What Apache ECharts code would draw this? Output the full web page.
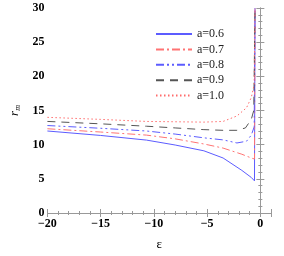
<!DOCTYPE html>
<html><head><meta charset="utf-8">
<script src="https://cdn.jsdelivr.net/npm/echarts@6/dist/echarts.min.js"></script>
<style>html,body{margin:0;padding:0;background:#fff}#c{width:284px;height:256px}</style>
</head><body><div id="c"></div>
<script>
var names = ['a=0.6','a=0.7','a=0.8','a=0.9','a=1.0'];
var eps06 = [-20,-15,-10.7,-8,-5.3,-3.5,-1.74,-0.85,-0.55,-0.5];
var r06   = [12.0,11.35,10.67,9.95,9.1,8.05,6.24,5.2,4.7,30];
var eps07 = [-20,-15,-10.7,-8,-5.3,-3.5,-1.74,-0.85,-0.55,-0.5];
var r07   = [12.33,11.85,11.4,10.85,10.1,9.5,8.6,8.05,7.9,30];
var eps08 = [-20,-15,-10.7,-8,-5.3,-3.5,-2.2,-1.3,-0.85,-0.58,-0.5];
var r08   = [12.8,12.4,12.0,11.55,11.0,10.7,10.25,10.5,11.4,12.6,30];
var eps09 = [-20,-15,-10.7,-8,-5.3,-3.5,-2.2,-1.4,-0.85,-0.62,-0.5];
var r09   = [13.4,13.05,12.7,12.45,12.2,12.1,12.1,12.45,13.7,15.0,30];
var eps10 = [-20,-15,-10.7,-5.3,-3.5,-2.2,-1.3,-0.85,-0.58,-0.5];
var r10   = [14.0,13.7,13.4,13.3,13.4,14.2,15.4,16.9,18.8,30];
var xTicks = [-20,-15,-10,-5,0];
var yTicks = [0,5,10,15,20,25,30];

function pairs(x, y){ return x.map(function(v,i){ return [v, y[i]]; }); }
var colors = ['#5c5cff','#ff7373','#5c5cff','#555555','#ff6b6b'];
var dashes = ['solid',[8,3,2,3],[8,3,2,3,2,3],[8,6],[1.5,2.5]];
var datas = [pairs(eps06,r06),pairs(eps07,r07),pairs(eps08,r08),pairs(eps09,r09),pairs(eps10,r10)];

var SERIF = "'Liberation Serif', 'Times New Roman', 'DejaVu Serif', serif";
var lab = {fontFamily:SERIF, fontWeight:'bold', fontSize:12, color:'#000'};
var axisLineC = {lineStyle:{color:'#999', width:1}};
var chart = echarts.init(document.getElementById('c'));
chart.setOption({
  animation:false,
  grid:{left:36,right:13,top:8,bottom:38},
  legend:{
    data:names, orient:'vertical', left:150, top:23,
    itemWidth:36, itemHeight:10, itemGap:3.4,
    itemStyle:{opacity:0},
    textStyle:{fontFamily:SERIF, fontSize:12, color:'#222'}
  },
  xAxis:[{
    type:'value', min:-20, max:1, interval:5,
    axisLine:axisLineC,
    axisTick:{inside:true,length:4,lineStyle:{color:'#999'}},
    minorTick:{show:true,splitNumber:5,length:2,lineStyle:{color:'#999'}},
    splitLine:{show:false},
    axisLabel:Object.assign({margin:5, formatter:function(v){ return xTicks.indexOf(v)>=0 ? String(v).replace('-','\u2212') : ''; }}, lab),
    name:'\u03b5', nameLocation:'middle', nameGap:25,
    nameTextStyle:{fontFamily:SERIF, fontSize:13, color:'#000'}
  },{
    type:'value', position:'top', min:-20, max:1, interval:5,
    axisLine:axisLineC,
    axisTick:{inside:true,length:4,lineStyle:{color:'#999'}},
    minorTick:{show:true,splitNumber:5,length:2,lineStyle:{color:'#999'}},
    splitLine:{show:false}, axisLabel:{show:false}
  }],
  yAxis:[{
    type:'value', min:0, max:30, interval:5,
    axisLine:axisLineC,
    axisTick:{inside:true,length:4,lineStyle:{color:'#999'}},
    minorTick:{show:true,splitNumber:5,length:2,lineStyle:{color:'#999'}},
    splitLine:{show:false},
    axisLabel:Object.assign({margin:3, formatter:function(v){ return yTicks.indexOf(v)>=0 ? String(v) : ''; }}, lab),
    name:'{r|r}{m|m}', nameLocation:'middle', nameGap:22, nameRotate:90,
    nameTextStyle:{rich:{
      r:{fontFamily:SERIF, fontStyle:'italic', fontSize:13, color:'#000'},
      m:{fontFamily:SERIF, fontStyle:'italic', fontSize:8, color:'#000', verticalAlign:'bottom', padding:[6,0,0,0]}
    }}
  },{
    type:'value', position:'right', min:0, max:30, interval:5,
    axisLine:axisLineC,
    axisTick:{inside:true,length:4,lineStyle:{color:'#999'}},
    minorTick:{show:true,splitNumber:5,length:2,lineStyle:{color:'#999'}},
    splitLine:{show:false}, axisLabel:{show:false}
  }],
  series:names.map(function(n,i){
    return {name:n, type:'line', data:datas[i], showSymbol:false, symbol:'none',
      xAxisIndex:0, yAxisIndex:0, clip:true,
      lineStyle:{color:colors[i], width:1, type:dashes[i]}, itemStyle:{color:colors[i]}};
  })
});
</script></body></html>
